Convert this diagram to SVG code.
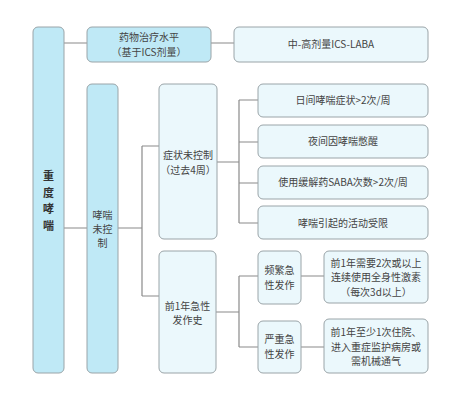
<svg xmlns="http://www.w3.org/2000/svg" width="462" height="400" viewBox="0 0 462 400">
<style>
.d{fill:#bfe9f6;stroke:#9aa4a8;stroke-width:1}
.l{fill:#ebf8fc;stroke:#9aa4a8;stroke-width:1}
.c{fill:none;stroke:#8a8a8a;stroke-width:1.2}
text{font-family:"Noto Sans CJK SC","Noto Sans",sans-serif;font-size:10px;fill:#444;text-anchor:middle}
.b{font-weight:bold;font-size:11px;fill:#333}
</style>
<rect width="462" height="400" fill="#fff"/>
<g id="connectors">
<path class="c" d="M64 43H87M211 43H234M64 228H87M118 228H142M142 146V296M142 146H159M142 296H159M217 162H239M239 100V223M239 100H258M239 142H258M239 183H258M239 223H258M216 312H239M239 276V347M239 276H258M239 347H258M301 276H324M301 347H324"/>
</g>
<g id="n-severe"><rect class="d" x="33" y="27" width="31" height="346" rx="5"/>
<text class="b" x="48.5" y="180">重</text><text class="b" x="48.5" y="197">度</text><text class="b" x="48.5" y="213">哮</text><text class="b" x="48.5" y="230">喘</text></g>
<g id="n-level"><rect class="d" x="87" y="27" width="124" height="35" rx="5"/>
<text x="149" y="41">药物治疗水平</text><text x="149" y="56">（基于ICS剂量）</text></g>
<g id="n-ics"><rect class="l" x="234" y="27" width="194" height="35" rx="5"/>
<text x="331" y="48">中-高剂量ICS-LABA</text></g>
<g id="n-uncontrolled"><rect class="d" x="87" y="84" width="31" height="289" rx="5"/>
<text x="102.5" y="219">哮喘</text><text x="102.5" y="233">未控</text><text x="102.5" y="247">制</text></g>
<g id="n-symptom"><rect class="l" x="159" y="84" width="58" height="155" rx="5"/>
<text x="188" y="159">症状未控制</text><text x="188" y="174">（过去4周）</text></g>
<g id="n-history"><rect class="l" x="159" y="251" width="57" height="122" rx="5"/>
<text x="187.5" y="310">前1年急性</text><text x="187.5" y="324">发作史</text></g>
<g id="n-s1"><rect class="l" x="258" y="84" width="170" height="33" rx="5"/><text x="343" y="104">日间哮喘症状&gt;2次/周</text></g>
<g id="n-s2"><rect class="l" x="258" y="125" width="170" height="33" rx="5"/><text x="343" y="145">夜间因哮喘憋醒</text></g>
<g id="n-s3"><rect class="l" x="258" y="166" width="170" height="33" rx="5"/><text x="343" y="186">使用缓解药SABA次数&gt;2次/周</text></g>
<g id="n-s4"><rect class="l" x="258" y="206" width="170" height="33" rx="5"/><text x="343" y="227">哮喘引起的活动受限</text></g>
<g id="n-frequent"><rect class="l" x="258" y="251" width="43" height="53" rx="5"/>
<text x="279.5" y="274">频繁急</text><text x="279.5" y="289">性发作</text></g>
<g id="n-frequent-d"><rect class="l" x="324" y="251" width="104" height="52" rx="5"/>
<text x="376" y="267">前1年需要2次或以上</text><text x="376" y="281">连续使用全身性激素</text><text x="376" y="296">（每次3d以上）</text></g>
<g id="n-serious"><rect class="l" x="258" y="321" width="43" height="52" rx="5"/>
<text x="279.5" y="343">严重急</text><text x="279.5" y="358">性发作</text></g>
<g id="n-serious-d"><rect class="l" x="324" y="319" width="104" height="54" rx="5"/>
<text x="376" y="336">前1年至少1次住院、</text><text x="376" y="351">进入重症监护病房或</text><text x="376" y="365">需机械通气</text></g>
</svg>
